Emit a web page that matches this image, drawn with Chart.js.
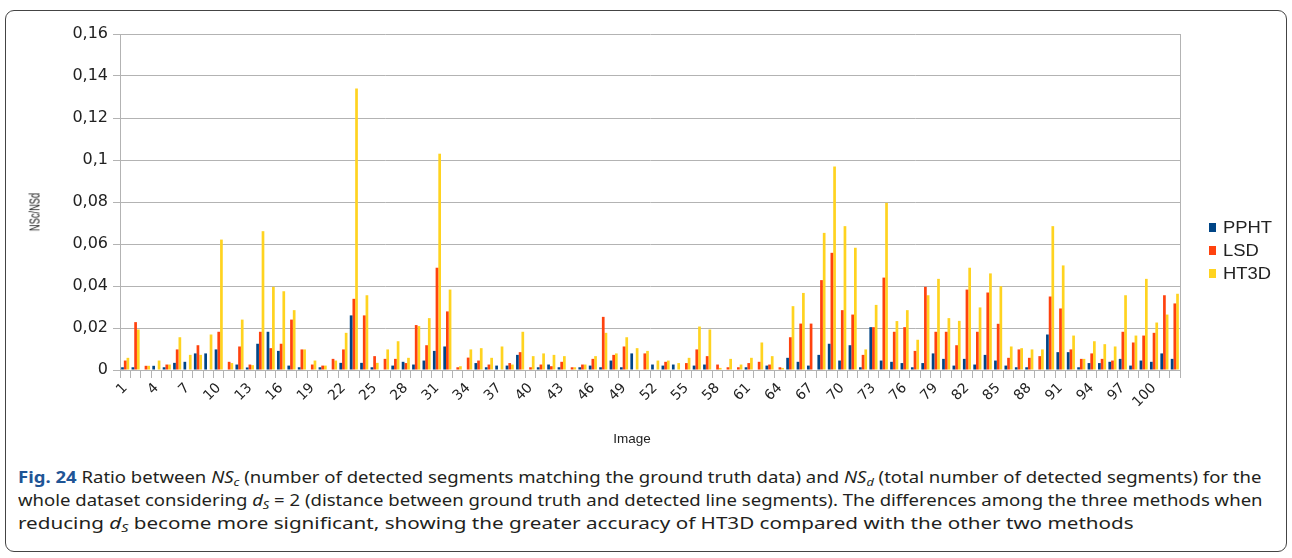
<!DOCTYPE html>
<html><head><meta charset="utf-8">
<script src="https://cdn.jsdelivr.net/npm/chart.js@4"></script>
<style>
html,body{margin:0;padding:0;background:#fff}
body{width:1292px;height:558px;overflow:hidden;position:relative;font-family:"Liberation Sans",Arial,sans-serif}
#frame{position:absolute;left:5px;top:10px;width:1282px;height:542px;border:1px solid #444;border-radius:9px;box-sizing:border-box}
#c{position:absolute;left:0;top:0}
#legend{position:absolute;left:1209px;top:216px;font-size:16px;color:#222}
.li{display:flex;align-items:center;height:23px}
.sw{width:7px;height:9px;margin-right:7px;flex:none}
.lt{display:inline-block;transform:scaleX(1.15);transform-origin:left center}
#xt{position:absolute;left:532px;width:200px;top:431px;text-align:center;font-size:13.5px;color:#222}
#yt{position:absolute;left:34px;top:212px;width:0;height:0}
#yt span{position:absolute;left:0;top:0;transform:translate(-50%,-50%) rotate(-90deg) scaleX(0.62);white-space:nowrap;font-size:15px;color:#222}
.cl{position:absolute;left:18px;font-family:"Noto Sans","Open Sans",sans-serif;font-size:16px;line-height:23px;height:23px;color:#231f20;white-space:nowrap;transform-origin:left top}
.cl b{color:#1f5596}
.cl sub{font-size:11px;vertical-align:-3px;line-height:0}
#l1{top:466px;transform:scaleX(1.158)}
#l2{top:489px;transform:scaleX(1.158)}
#l3{top:512px;transform:scaleX(1.29)}
</style></head>
<body>
<div id="frame"></div>
<canvas id="c" width="1292" height="455"></canvas>
<div id="legend"></div>
<div id="xt">Image</div>
<div id="yt"><span>NSc/NSd</span></div>
<div class="cl" id="l1"><b>Fig. 24</b> Ratio between <i>NS<sub>c</sub></i> (number of detected segments matching the ground truth data) and <i>NS<sub>d</sub></i> (total number of detected segments) for the</div>
<div class="cl" id="l2">whole dataset considering <i>d<sub>S</sub></i> = 2 (distance between ground truth and detected line segments). The differences among the three methods when</div>
<div class="cl" id="l3">reducing <i>d<sub>S</sub></i> become more significant, showing the greater accuracy of HT3D compared with the other two methods</div>
<script>
const images = Array.from({length:102},(_,i)=>String(i+1));
const seriesNames = ['PPHT','LSD','HT3D'];
const ppht = [0.0013,0.0013,0,0.002,0.0013,0.0034,0.0039,0.0079,0.0079,0.0098,
0,0.0026,0.0012,0.0125,0.0182,0.0091,0.0021,0.0013,0,0.0013,
0,0.0034,0.026,0.0034,0.0013,0,0.0021,0.0039,0.0026,0.0045,
0.0091,0.0112,0,0,0.0033,0.0013,0.0021,0.0021,0.0072,0,
0.0013,0.0026,0.0013,0,0.0013,0.0021,0.0013,0.0045,0.0013,0.0079,
0,0.0026,0.0021,0.0026,0,0.0021,0.0026,0,0,0,
0.0013,0,0.0021,0,0.0058,0.0039,0.0021,0.0072,0.0125,0.0045,
0.0118,0.0013,0.0204,0.0045,0.0039,0.0033,0.0013,0.0033,0.0079,0.0053,
0.0021,0.0053,0.0026,0.0072,0.0045,0.0021,0.0013,0.0013,0,0.0169,
0.0085,0.0085,0.0013,0.0033,0.0033,0.0039,0.0053,0.0021,0.0045,0.0039,
0.0079,0.0053];
const lsd = [0.0045,0.0228,0.002,0,0.0026,0.0098,0,0.0118,0,0.0182,
0.0039,0.0112,0.0026,0.0182,0.0104,0.0125,0.024,0.0098,0.0026,0.0021,
0.0053,0.0098,0.0339,0.026,0.0066,0.0053,0.0053,0.0033,0.0214,0.0118,
0.0487,0.0279,0.0013,0.0059,0.0045,0.0026,0,0.0033,0.0085,0.0013,
0.0026,0.0018,0.0039,0.0013,0.0026,0.0053,0.0253,0.0072,0.0112,0,
0.0079,0,0.0039,0,0.0033,0.0098,0.0066,0.0026,0.0013,0.0013,
0.0033,0.0039,0.0026,0.0013,0.0156,0.0221,0.0221,0.0428,0.0558,0.0285,
0.0264,0.0072,0.0204,0.044,0.0182,0.0204,0.0091,0.0396,0.0182,0.0182,
0.0118,0.0383,0.0182,0.0369,0.022,0.0058,0.0098,0.0058,0.0066,0.035,
0.0293,0.0098,0.0053,0.0079,0.0053,0.0045,0.0182,0.0131,0.0164,0.0177,
0.0356,0.0317];
const ht3d = [0.0058,0.0193,0.002,0.0045,0.0026,0.0156,0.0072,0.0072,0.0169,0.0621,
0.0033,0.024,0.0023,0.0661,0.0396,0.0375,0.0285,0.0098,0.0045,0.0021,
0.0045,0.0177,0.134,0.0356,0.0034,0.0098,0.0137,0.0058,0.0209,0.0247,
0.103,0.0383,0.0018,0.0098,0.0104,0.0058,0.0112,0.0026,0.0182,0.0066,
0.0079,0.0072,0.0066,0.0013,0.0026,0.0066,0.0177,0.0079,0.0156,0.0104,
0.0091,0.0045,0.0045,0.0033,0.0058,0.0207,0.0193,0.001,0.0053,0.0026,
0.0058,0.0131,0.0066,0.001,0.0304,0.0367,0,0.0653,0.0969,0.0685,
0.0582,0.0098,0.031,0.0796,0.0233,0.0285,0.0144,0.0356,0.0434,0.0247,
0.0234,0.0487,0.0298,0.046,0.0399,0.0112,0.0104,0.0098,0.0098,0.0685,
0.0498,0.0164,0.0053,0.0137,0.0123,0.0112,0.0356,0.0164,0.0434,0.0226,
0.0264,0.0363];
const yTicks = [0,0.02,0.04,0.06,0.08,0.1,0.12,0.14,0.16];
const colors = ['#004586','#ff420e','#ffd320'];

const fmt = v => String(Math.round(v*100)/100).replace('.',',');
const frameRight = {
  id:'frameRight',
  afterDraw(ch){
    const {ctx,chartArea:a}=ch;
    ctx.save();ctx.strokeStyle='#b3b3b3';ctx.lineWidth=1;
    ctx.beginPath();ctx.moveTo(Math.round(a.right)+0.5,a.top);ctx.lineTo(Math.round(a.right)+0.5,a.bottom);ctx.stroke();
    ctx.restore();
  }
};
new Chart(document.getElementById('c'),{
  type:'bar',
  data:{labels:images,datasets:[
    {label:seriesNames[0],data:ppht,backgroundColor:colors[0]},
    {label:seriesNames[1],data:lsd,backgroundColor:colors[1]},
    {label:seriesNames[2],data:ht3d,backgroundColor:colors[2]}
  ]},
  options:{
    responsive:false,animation:false,
    layout:{padding:{left:20,right:112,top:34,bottom:0}},
    plugins:{legend:{display:false},tooltip:{enabled:false}},
    datasets:{bar:{categoryPercentage:0.78,barPercentage:1}},
    scales:{
      x:{
        grid:{offset:true,drawOnChartArea:false,color:'#b3b3b3',tickLength:8},
        border:{color:'#b3b3b3'},
        ticks:{autoSkip:false,minRotation:45,maxRotation:45,padding:2,color:'#222',font:{family:'"DejaVu Sans"',size:14},
          callback:(v,i)=> i%3===0 ? images[i] : ''},
        afterFit:s=>{s.height=85;}
      },
      y:{
        min:0,max:0.16,
        afterBuildTicks:s=>{s.ticks=yTicks.map(v=>({value:v}));},
        ticks:{padding:5,color:'#222',font:{family:'"DejaVu Sans"',size:16},callback:v=>fmt(v)},
        grid:{color:'#b3b3b3',tickLength:7},
        border:{color:'#b3b3b3'},
        afterFit:s=>{s.width=100;}
      }
    }
  },
  plugins:[frameRight]
});
const lg=document.getElementById('legend');
seriesNames.forEach((n,i)=>{
  const d=document.createElement('div');d.className='li';
  d.innerHTML='<span class="sw" style="background:'+colors[i]+'"></span><span class="lt">'+n+'</span>';
  lg.appendChild(d);
});
</script>
</body></html>
